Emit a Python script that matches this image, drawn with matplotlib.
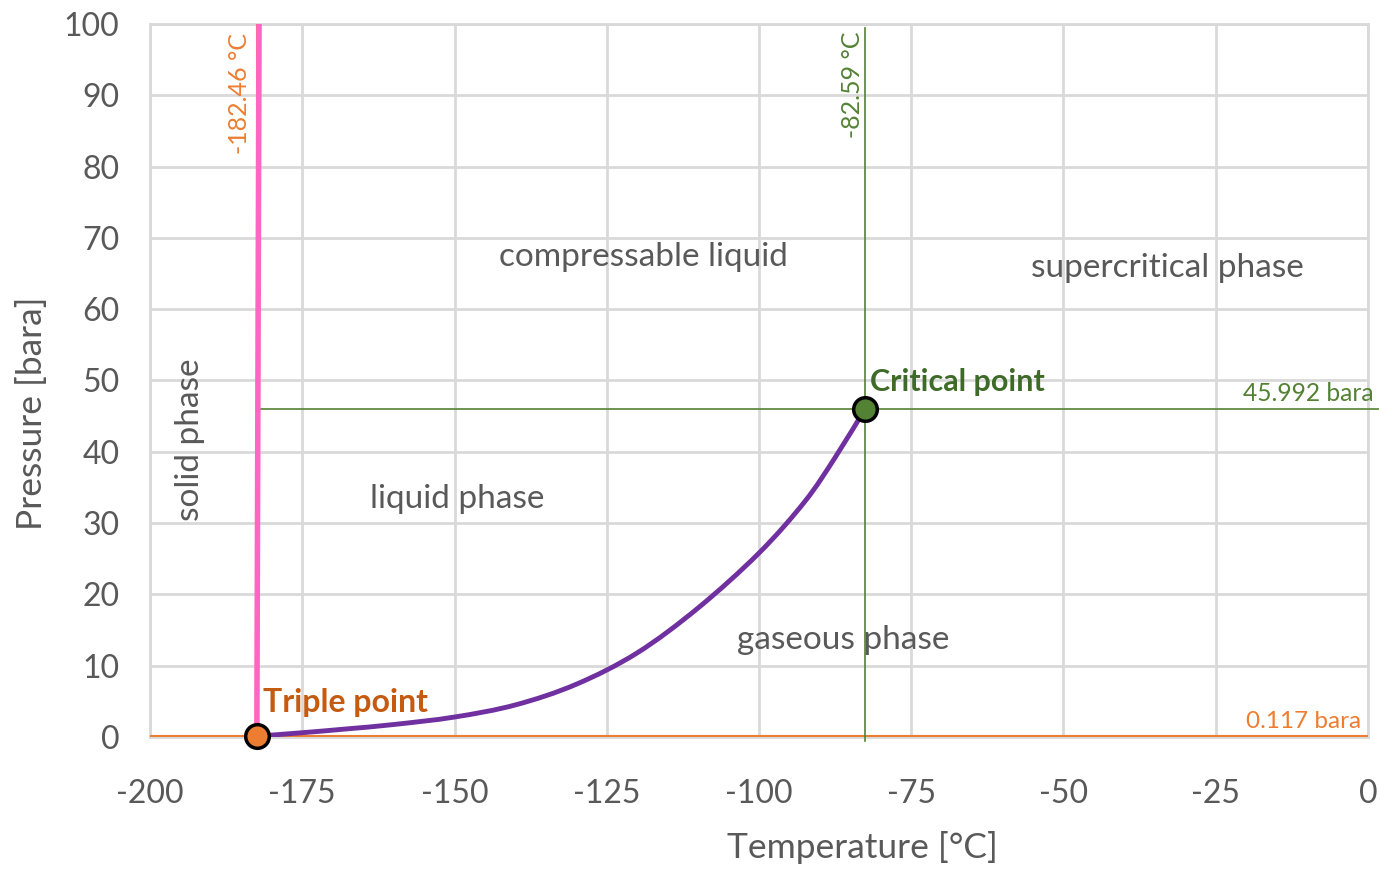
import matplotlib
matplotlib.use("Agg")
import matplotlib.pyplot as plt
from matplotlib.path import Path
from matplotlib.patches import PathPatch

# Data
vp_temp = [-182.46, -175, -167.5, -160, -150, -140, -130, -120, -110, -100,
           -92.5, -87.5, -82.59]
vp_pres = [0.117, 0.6, 1.15, 1.75, 2.8, 4.5, 7.4, 11.8, 18.1, 25.8,
           33.0, 39.2, 45.992]
triple_T, triple_P = -182.46, 0.117
crit_T, crit_P = -82.59, 45.992
melt_T = [-182.46, -182.1]
melt_P = [0.117, 100]

xticks = [-200, -175, -150, -125, -100, -75, -50, -25, 0]
yticks = [0, 10, 20, 30, 40, 50, 60, 70, 80, 90, 100]

plt.rcParams['font.family'] = ['Lato', 'DejaVu Sans']

fig = plt.figure(figsize=(13.79, 8.69), dpi=100)
ax = fig.add_axes([0.1088, 0.1519, 0.8832, 0.8205])
ax.set_xlim(-200, 0)
ax.set_ylim(0, 100)
ax.set_xticks(xticks)
ax.set_yticks(yticks)
ax.set_xticklabels([str(t) for t in xticks])
ax.grid(True, color='#d9d9d9', linewidth=2)
ax.set_axisbelow(True)
for s in ax.spines.values():
    s.set_color('#d9d9d9')
    s.set_linewidth(2)
ax.tick_params(length=0, labelsize=23, labelcolor='#595959')
ax.tick_params(axis='x', pad=30)
ax.tick_params(axis='y', pad=22)
ax.set_xlabel('Temperature [°C]', fontsize=25.5, color='#595959')
ax.set_ylabel('Pressure [bara]', fontsize=25.5, color='#595959')
ax.xaxis.set_label_coords(0.585, -0.132)
ax.yaxis.set_label_coords(-0.084, 0.454)

orange = '#ed7d31'
green = '#548235'
pink = '#ff66c4'
purple = '#7030a0'

# Reference lines
ax.plot([-200, 0], [triple_P, triple_P], color=orange, lw=1.5, zorder=3)
ax.plot([triple_T, triple_T], [0, 100], color=orange, lw=1.5, zorder=3)
ax.plot([crit_T, crit_T], [-0.5, 99.5], color=green, lw=1.2, zorder=3, clip_on=False)
ax.plot([triple_T, 2], [crit_P, crit_P], color=green, lw=1.2, zorder=3, clip_on=False)

# Melting line
ax.plot(melt_T, melt_P, color=pink, lw=4, zorder=4)

# Vapour pressure curve, smoothed through the read points (Catmull-Rom -> Bezier)
n = len(vp_temp)
verts = [(vp_temp[0], vp_pres[0])]
codes = [Path.MOVETO]
for i in range(n - 1):
    x0, y0 = (vp_temp[i - 1], vp_pres[i - 1]) if i > 0 else (vp_temp[i], vp_pres[i])
    x1, y1 = vp_temp[i], vp_pres[i]
    x2, y2 = vp_temp[i + 1], vp_pres[i + 1]
    x3, y3 = (vp_temp[i + 2], vp_pres[i + 2]) if i + 2 < n else (x2, y2)
    c1 = (x1 + (x2 - x0) / 6.0, y1 + (y2 - y0) / 6.0)
    c2 = (x2 - (x3 - x1) / 6.0, y2 - (y3 - y1) / 6.0)
    verts += [c1, c2, (x2, y2)]
    codes += [Path.CURVE4, Path.CURVE4, Path.CURVE4]
ax.add_patch(PathPatch(Path(verts, codes), facecolor='none', edgecolor=purple,
                       lw=3.5, zorder=4, capstyle='round', joinstyle='round'))

# Points
ax.plot([triple_T], [triple_P], 'o', ms=17, mfc=orange, mec='black', mew=2.5, zorder=6, clip_on=False)
ax.plot([crit_T], [crit_P], 'o', ms=17, mfc=green, mec='black', mew=2.5, zorder=6)

# Annotations
ax.text(-181.4, 4.8, 'Triple point', color='#c55a11', fontsize=23, fontweight='bold',
        ha='left', va='center', zorder=7)
ax.text(-81.8, 49.8, 'Critical point', color='#3f6b28', fontsize=22, fontweight='bold',
        ha='left', va='center', zorder=7)
ax.text(1.0, 48.2, '45.992 bara', color=green, fontsize=17.7, ha='right', va='center', clip_on=False)
ax.text(-1.2, 2.2, '0.117 bara', color=orange, fontsize=17.5, ha='right', va='center')
ax.text(-185.3, 90.2, '-182.46 °C', color=orange, fontsize=18, rotation=90, ha='center', va='center')
ax.text(-84.6, 91.5, '-82.59 °C', color=green, fontsize=18, rotation=90, ha='center', va='center')

txt = dict(color='#595959', fontsize=24, ha='center', va='center')
ax.text(-119.0, 67.3, 'compressable liquid', **txt)
ax.text(-33.0, 65.8, 'supercritical phase', **txt)
ax.text(-149.6, 33.4, 'liquid phase', **txt)
ax.text(-86.2, 13.6, 'gaseous phase', **txt)
ax.text(-193.4, 41.7, 'solid phase', rotation=90, **txt)

fig.savefig('out.png', dpi=100)
